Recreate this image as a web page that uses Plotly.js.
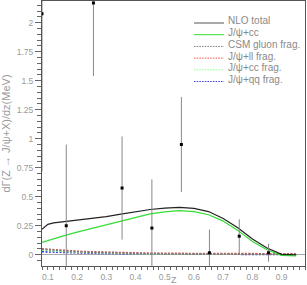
<!DOCTYPE html>
<html><head><meta charset="utf-8">
<script src="https://cdn.plot.ly/plotly-3.0.1.min.js"></script>
<style>html,body{margin:0;padding:0;background:#fff}#chart{width:307px;height:285px}</style>
</head><body><div id="chart"></div>
<script>
// curve abscissa
const zCurve = [0.08,0.09,0.10,0.12,0.15,0.20,0.25,0.30,0.35,0.40,0.45,0.50,0.55,0.60,0.65,0.70,0.75,0.80,0.85,0.90,0.95];
const nloTotal = [0.22,0.245,0.262,0.275,0.283,0.297,0.31,0.328,0.35,0.37,0.39,0.402,0.408,0.40,0.372,0.312,0.232,0.135,0.058,0.003,0.0];
const psiCC = [0.106,0.114,0.122,0.137,0.161,0.195,0.227,0.259,0.291,0.322,0.352,0.370,0.380,0.372,0.345,0.290,0.210,0.115,0.043,-0.006,-0.01];
const csmGluonFrag = [0.048,0.046,0.043,0.039,0.034,0.027,0.022,0.018,0.015,0.012,0.010,0.009,0.008,0.007,0.006,0.005,0.005,0.004,0.004,0.003,0.003];
const psiLLFrag = [0.051,0.049,0.046,0.042,0.037,0.030,0.025,0.021,0.018,0.015,0.013,0.012,0.011,0.010,0.010,0.009,0.009,0.009,0.008,0.008,0.008];
const psiCCFrag = [0.040,0.038,0.036,0.033,0.029,0.023,0.019,0.015,0.012,0.010,0.008,0.007,0.006,0.005,0.005,0.004,0.004,0.003,0.003,0.003,0.003];
const psiQQFrag = [0.026,0.025,0.024,0.022,0.019,0.016,0.013,0.011,0.009,0.008,0.007,0.006,0.005,0.005,0.004,0.004,0.003,0.003,0.003,0.003,0.003];

// measured points
const zData = [0.08,0.163,0.256,0.354,0.456,0.557,0.653,0.755,0.855];
const yData = [2.077,0.25,2.17,0.575,0.23,0.95,0.017,0.16,0.017];
const errData = [1.36,0.70,0.63,0.445,0.42,0.41,0.20,0.145,0.077];

const seriesNames = ['NLO total','J/\u03c8+cc','CSM gluon frag.','J/\u03c8+ll frag.','J/\u03c8+cc frag.','J/\u03c8+qq frag.'];
const seriesValues = [nloTotal, psiCC, csmGluonFrag, psiLLFrag, psiCCFrag, psiQQFrag];
const seriesColors = ['#222222','#33dd33','#777777','#ff4a4a','#88ff88','#3a3ae0'];
const seriesDash = ['solid','solid','2px,1.5px','2px,1.5px','2px,1.5px','2px,1.5px'];

const yTickVals = [0,0.25,0.5,0.75,1,1.25,1.5,1.75,2];
const yTickText = ['0','0.25','0.5','0.75','1','1.25','1.5','1.75','2'];
const xTickVals = [0.1,0.2,0.3,0.4,0.5,0.6,0.7,0.8,0.9];
const xTickText = ['0.1','0.2','0.3','0.4','0.5','0.6','0.7','0.8','0.9'];
const xTitle = 'Z';
const yTitle = 'd\u0393(Z \u2192 J/\u03c8+X)/dz(MeV)';

const traces = [];
// draw dotted first, then solid on top
for (let i = seriesNames.length - 1; i >= 0; i--) {
  traces.push({
    x: zCurve, y: seriesValues[i], type: 'scatter', mode: 'lines', name: seriesNames[i],
    line: {color: seriesColors[i], width: i < 2 ? 1.2 : 1.6, dash: seriesDash[i]},
    hoverinfo: 'skip', showlegend: false
  });
}
traces.push({
  x: zData, y: yData, type: 'scatter', mode: 'markers', name: 'data',
  marker: {symbol: 'square', size: 3, color: '#000'},
  error_y: {type: 'data', array: errData, visible: true, color: '#888', thickness: 1, width: 0},
  showlegend: false
});

const L = 42, R = 305, T = 1, B = 266;
const W = R - L, H = B - T;
const shapes = [], annotations = [];
const legLineX0 = 194, legLineX1 = 224, legTextX = 227, legRow0 = 21, legStep = 11.7;
seriesNames.forEach((nm, i) => {
  const ty = legRow0 + i * legStep;
  const ly = ty + 2;
  shapes.push({type: 'line', xref: 'paper', yref: 'paper',
    x0: (legLineX0 - L) / W, x1: (legLineX1 - L) / W,
    y0: (B - ly) / H, y1: (B - ly) / H,
    line: {color: i === 0 ? '#555' : seriesColors[i], width: 1, dash: seriesDash[i] === 'solid' ? 'solid' : '1.5px,1.2px'}});
  annotations.push({xref: 'paper', yref: 'paper', x: (legTextX - L) / W, y: (B - ty) / H,
    xanchor: 'left', yanchor: 'middle', showarrow: false, text: nm,
    font: {family: 'Liberation Sans, Arial, sans-serif', size: 10, color: '#8a8a8a'}, borderpad: 0});
});
annotations.push({xref: 'paper', yref: 'paper', x: (174 - L) / W, y: (B - 280) / H,
  xanchor: 'center', yanchor: 'middle', showarrow: false, text: xTitle,
  font: {family: 'Liberation Sans, Arial, sans-serif', size: 9, color: '#999'}, borderpad: 0});

const axisFont = {family: 'Liberation Sans, Arial, sans-serif', size: 8.5, color: '#999'};
const layout = {
  width: 307, height: 285,
  margin: {l: L, r: 307 - R, t: T, b: 285 - B, pad: 0},
  paper_bgcolor: '#fff', plot_bgcolor: '#fff',
  showlegend: false,
  xaxis: {
    range: [0.08, 0.98], tickvals: xTickVals, ticktext: xTickText,
    ticks: 'outside', ticklen: 3, tickcolor: '#666', tickwidth: 1,
    minor: {dtick: 0.02, tick0: 0, ticks: 'outside', ticklen: 2.5, tickcolor: '#666', showgrid: false},
    showgrid: false, zeroline: false, showline: true, mirror: true, linecolor: '#555', linewidth: 1,
    tickfont: axisFont
  },
  yaxis: {
    range: [-0.097, 2.187], tickvals: yTickVals, ticktext: yTickText,
    ticks: 'outside', ticklen: 6, tickcolor: '#666', tickwidth: 1,
    minor: {dtick: 0.05, tick0: 0, ticks: 'outside', ticklen: 4, tickcolor: '#666', showgrid: false},
    showgrid: false, zeroline: true, zerolinecolor: '#aaa', zerolinewidth: 1,
    showline: true, mirror: true, linecolor: '#555', linewidth: 1,
    tickfont: axisFont,
    title: {text: yTitle, font: {family: 'Liberation Sans, Arial, sans-serif', size: 11, color: '#999'}, standoff: 4}
  },
  shapes: shapes, annotations: annotations
};
Plotly.newPlot('chart', traces, layout, {displayModeBar: false, staticPlot: true});
</script></body></html>
